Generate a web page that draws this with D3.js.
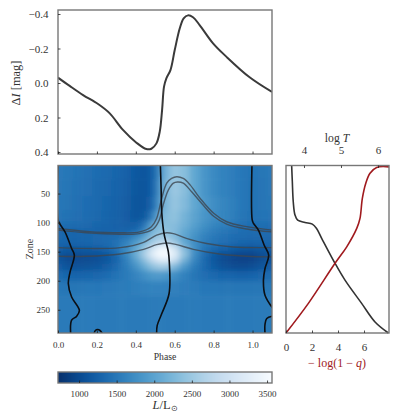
<!DOCTYPE html>
<html>
<head>
<meta charset="utf-8">
<script src="https://cdn.jsdelivr.net/npm/d3@7"></script>
<style>
  html, body { margin: 0; padding: 0; background: #fff; }
  text { font-family: "Liberation Serif", serif; fill: #333; }
  .tick text { font-size: 11px; }
  .domain { display: none; }
  .tick line { stroke: #222; stroke-width: 0.8; }
</style>
</head>
<body>
<svg id="chart" width="399" height="418"></svg>
<script>
// light curve
const curvePhase = [0, .06, .129, .206, .266, .334, .403, .454, .48, .506, .523, .535, .545, .557, .578, .6, .626, .646, .668, .694, .728, .797, .865, .985, 1.1];
const curveMag = [-.031, .017, .07, .122, .176, .272, .346, .383, .381, .35, .282, .157, .021, -.027, -.075, -.191, -.317, -.375, -.392, -.381, -.336, -.23, -.153, -.033, .052];

// luminosity map, rows = zones, cols = phases
const mapPhases = [0, .05, .1, .15, .2, .25, .3, .35, .4, .44, .47, .5, .53, .56, .6, .65, .7, .75, .8, .85, .9, .95, 1.0, 1.05, 1.1];
const mapZones = [10, 40, 70, 90, 105, 115, 125, 135, 145, 155, 165, 175, 190, 210, 240, 280];
const mapL = [
  [1520,1490,1450,1420,1380,1350,1300,1250,1170,1130,1170,1350,1850,2250,2450,2350,2050,1850,1700,1620,1560,1500,1450,1480,1520],
  [1510,1480,1430,1400,1360,1330,1280,1230,1150,1120,1170,1400,1950,2300,2500,2350,2050,1850,1700,1620,1560,1500,1440,1470,1510],
  [1490,1460,1420,1380,1350,1310,1270,1210,1130,1120,1200,1500,2000,2300,2450,2300,2050,1880,1750,1650,1580,1500,1440,1460,1490],
  [1470,1440,1400,1370,1340,1300,1260,1200,1130,1150,1350,1800,2200,2350,2400,2200,2000,1850,1720,1650,1570,1480,1430,1450,1470],
  [1400,1370,1350,1330,1300,1280,1250,1220,1230,1400,1800,2200,2350,2350,2330,2150,1950,1780,1650,1580,1500,1420,1380,1390,1400],
  [1320,1300,1290,1280,1280,1270,1270,1280,1380,1650,2050,2300,2400,2400,2300,2050,1850,1680,1560,1480,1420,1380,1350,1340,1320],
  [1320,1300,1290,1300,1320,1340,1380,1480,1680,1950,2250,2450,2550,2500,2300,2000,1780,1600,1500,1430,1380,1340,1320,1320,1320],
  [1300,1290,1290,1300,1320,1360,1440,1620,1900,2200,2450,2650,2850,2850,2500,2050,1750,1560,1460,1400,1340,1300,1280,1290,1300],
  [1220,1180,1170,1190,1230,1290,1430,1700,2050,2400,2800,3200,3450,3450,3000,2300,1780,1480,1340,1250,1190,1140,1120,1160,1220],
  [1120,1040,1020,1040,1080,1160,1340,1680,2100,2550,3000,3400,3560,3560,3200,2400,1750,1400,1190,1060,990,950,950,1030,1120],
  [1120,1020,1000,1010,1050,1130,1290,1580,1950,2300,2650,2950,3200,3200,2850,2150,1650,1350,1140,1010,950,930,950,1030,1120],
  [1200,1100,1080,1090,1130,1210,1350,1550,1780,2050,2280,2450,2550,2500,2250,1850,1550,1350,1190,1080,1020,1010,1040,1110,1200],
  [1370,1310,1290,1300,1330,1380,1450,1530,1640,1750,1830,1880,1880,1850,1750,1600,1480,1400,1340,1300,1280,1270,1290,1320,1370],
  [1490,1480,1480,1490,1500,1520,1530,1550,1580,1600,1620,1620,1620,1610,1590,1560,1530,1500,1490,1480,1480,1480,1480,1480,1490],
  [1530,1530,1530,1530,1530,1530,1530,1530,1530,1530,1530,1530,1530,1530,1530,1530,1530,1530,1530,1530,1530,1530,1530,1530,1530],
  [1530,1530,1530,1530,1530,1530,1530,1530,1530,1530,1530,1530,1530,1530,1530,1530,1530,1530,1530,1530,1530,1530,1530,1530,1530]
];

// gray contours on the map [phase, zone]
const grayA = [[0,110],[.147,115],[.32,117.5],[.42,116],[.48,107],[.507,93],[.533,58],[.559,32],[.584,24],[.61,21],[.644,24],[.679,35],[.73,58],[.8,84],[.867,98.5],[.97,107],[1.1,113]];
const grayB = [[0,113],[.147,117.5],[.32,120],[.42,119],[.49,111],[.52,96],[.54,70],[.567,44],[.593,32],[.614,30],[.644,32],[.687,47],[.739,67],[.8,89],[.867,102.5],[.97,111],[1.1,116]];
const grayC = [[0,143],[.32,143],[.44,134],[.507,121.5],[.559,117.5],[.593,119],[.66,127],[.764,136],[.9,142],[1.1,143]];
const grayD = [[0,158],[.147,158],[.32,154],[.44,146],[.507,138],[.559,135],[.61,138],[.696,146],[.83,154],[.97,158],[1.1,159]];

// black contours
const blackLeft = [[0,0],[0,95],[.007,101],[.036,116],[.07,144.5],[.084,156],[.062,185],[.053,205],[.07,228],[.11,251],[.096,261],[.07,268],[.065,291]];
const blackMid = [[.526,0],[.53,41],[.533,81],[.545,119],[.567,150],[.572,167],[.571,222],[.533,257],[.51,277],[.507,291]];
const blackRight = [[.997,0],[.998,95],[1.004,101],[1.03,113],[1.06,139],[1.083,156],[1.064,179],[1.056,199],[1.064,225],[1.103,247]];
const blackCorner = [[1.103,261],[1.073,265],[1.064,275],[1.064,291]];
const blackRing = [[.185,291],[.192,285.7],[.204,284],[.216,285.7],[.228,291]];

// side panel
const logT = [3.667, 3.685, 3.71, 3.757, 3.83, 4.027, 4.225, 4.34, 4.478, 4.838, 5.108, 5.558, 5.92, 6.28];
const logTZone = [2, 29.6, 64, 87, 95.7, 99.7, 102.6, 110, 127, 170, 199, 239, 271, 290];
const logQ = [0, 1.72, 3.77, 4.67, 5.44, 5.69, 5.87, 6.13, 6.46, 6.97, 7.92];
const logQZone = [290, 239, 170, 141.7, 110, 92.8, 58.3, 32.5, 15, 5, 4];

const phaseTicks = [0, .2, .4, .6, .8, 1.0];
const magTicks = [-.4, -.2, 0, .2, .4];
const zoneTicks = [50, 100, 150, 200, 250];
const colorTicks = [1000, 1500, 2000, 2500, 3000, 3500];

const svg = d3.select("#chart");
const left = 58, right = 272;
const spine = "#777";

const x = d3.scaleLinear().domain([0, 1.1]).range([left, left + 214]);
const yMag = d3.scaleLinear().domain([-.4, .4]).range([14, 152]);
const yZone = d3.scaleLinear().domain([1.7, 290]).range([165.5, 333]);
const color = d3.scaleSequential(t => d3.interpolateBlues(1 - t)).domain([720, 3566]);

const defs = svg.append("defs");
defs.append("clipPath").attr("id", "mapClip").append("rect")
    .attr("x", left).attr("y", 165.5).attr("width", right - left).attr("height", 167.5);
defs.append("clipPath").attr("id", "topClip").append("rect")
    .attr("x", left).attr("y", 10).attr("width", right - left).attr("height", 144);
defs.append("filter").attr("id", "soften")
    .attr("filterUnits", "userSpaceOnUse")
    .attr("x", 0).attr("y", 120).attr("width", 399).attr("height", 260)
    .append("feGaussianBlur").attr("stdDeviation", "3 2.6");

function box(x0, y0, w, h) {
    svg.append("rect").attr("x", x0).attr("y", y0).attr("width", w).attr("height", h)
        .attr("fill", "none").attr("stroke", spine).attr("stroke-width", 1.4);
}

// top panel
svg.append("g").attr("clip-path", "url(#topClip)").append("path")
    .attr("d", d3.line().x((d, i) => x(curvePhase[i])).y(d => yMag(d)).curve(d3.curveCatmullRom)(curveMag))
    .attr("fill", "none").attr("stroke", "#3a3a3a").attr("stroke-width", 2);
box(left, 10, right - left, 144);
svg.append("g").attr("transform", `translate(${left},0)`)
    .call(d3.axisLeft(yMag).tickValues(magTicks).tickSizeInner(-2.5).tickPadding(9.5)
        .tickFormat(d => d3.format(".1f")(d).replace("-", "\u2212")));
svg.append("g").attr("transform", "translate(0,154)")
    .call(d3.axisBottom(x).tickValues(phaseTicks).tickSizeInner(-2.5).tickFormat(""));
const magLabel = svg.append("text").attr("transform", "translate(20,83) rotate(-90)")
    .attr("text-anchor", "middle").attr("font-size", 12.4);
magLabel.append("tspan").text("\u0394");
magLabel.append("tspan").attr("font-style", "italic").text("I");
magLabel.append("tspan").text(" [mag]");

// heat map cells, extended past the frame so the softening does not fade at the edges
function edges(vals, pad) {
    const mids = d3.pairs(vals, (a, b) => (a + b) / 2);
    return [vals[0] - pad, ...mids, vals[vals.length - 1] + pad];
}
const xEdges = edges(mapPhases, .08);
const zEdges = edges(mapZones, 30);
svg.append("g").attr("clip-path", "url(#mapClip)")
    .append("g").attr("filter", "url(#soften)")
    .selectAll("g").data(mapL).join("g")
    .each(function(row, r) {
        d3.select(this).selectAll("rect").data(row).join("rect")
            .attr("x", (d, c) => x(xEdges[c]))
            .attr("width", (d, c) => x(xEdges[c + 1]) - x(xEdges[c]) + .5)
            .attr("y", yZone(zEdges[r]))
            .attr("height", yZone(zEdges[r + 1]) - yZone(zEdges[r]) + .5)
            .attr("fill", d => color(d));
    });

const contour = d3.line().x(d => x(d[0])).y(d => yZone(d[1])).curve(d3.curveCatmullRom);
const mapLines = svg.append("g").attr("clip-path", "url(#mapClip)");
[grayA, grayB, grayC, grayD].forEach(c => {
    mapLines.append("path").attr("d", contour(c)).attr("fill", "none")
        .attr("stroke", "#3d4650").attr("stroke-opacity", .8).attr("stroke-width", 1.4);
});
[blackLeft, blackMid, blackRight, blackCorner, blackRing].forEach(c => {
    mapLines.append("path").attr("d", contour(c)).attr("fill", "none")
        .attr("stroke", "#0b0f14").attr("stroke-width", 1.6);
});
box(left, 165.5, right - left, 167.5);
svg.append("g").attr("transform", `translate(${left},0)`)
    .call(d3.axisLeft(yZone).tickValues(zoneTicks).tickSizeInner(-2.5).tickPadding(8))
    .selectAll("text").style("font-size", "9px");
svg.append("g").attr("transform", "translate(0,333)")
    .call(d3.axisBottom(x).tickValues(phaseTicks).tickSizeInner(-2.5).tickPadding(8.5).tickFormat(d3.format(".1f")))
    .selectAll("text").style("font-size", "9px");
svg.append("text").attr("transform", "translate(33,249) rotate(-90)").attr("text-anchor", "middle")
    .attr("font-size", 10).text("Zone");
svg.append("text").attr("x", 165).attr("y", 360).attr("text-anchor", "middle")
    .attr("font-size", 9.7).text("Phase");

// side panel
const sideLeft = 286, sideRight = 389;
const xQ = d3.scaleLinear().domain([0, 7.92]).range([sideLeft, sideRight]);
const xT = d3.scaleLinear().domain([3.514, 6.297]).range([sideLeft, sideRight]);
svg.append("path")
    .attr("d", d3.line().x(d => xT(d)).y((d, i) => yZone(logTZone[i])).curve(d3.curveCatmullRom)(logT))
    .attr("fill", "none").attr("stroke", "#333").attr("stroke-width", 1.6);
svg.append("path")
    .attr("d", d3.line().x(d => xQ(d)).y((d, i) => yZone(logQZone[i])).curve(d3.curveCatmullRom)(logQ))
    .attr("fill", "none").attr("stroke", "#a01a1e").attr("stroke-width", 1.6);
box(sideLeft, 165.5, sideRight - sideLeft, 167.5);
svg.append("g").attr("transform", "translate(0,333)")
    .call(d3.axisBottom(xQ).tickValues([0, 2, 4, 6]).tickSizeInner(-2.5).tickPadding(10.5));
svg.append("g").attr("transform", "translate(0,165.5)")
    .call(d3.axisTop(xT).tickValues([4, 5, 6]).tickSizeInner(-2.5).tickPadding(11.5).tickFormat(d3.format("d")));
const tLabel = svg.append("text").attr("x", 337).attr("y", 142).attr("text-anchor", "middle").attr("font-size", 11.7);
tLabel.append("tspan").text("log ");
tLabel.append("tspan").attr("font-style", "italic").text("T");
const qLabel = svg.append("text").attr("x", 337).attr("y", 367).attr("text-anchor", "middle")
    .attr("font-size", 12).style("fill", "#a01a1e");
qLabel.append("tspan").text("\u2212 log(1 \u2212 ");
qLabel.append("tspan").attr("font-style", "italic").text("q");
qLabel.append("tspan").text(")");

// colour bar
const xBar = d3.scaleLinear().domain([720, 3566]).range([left, right]);
svg.append("g").selectAll("rect").data(d3.range(left, right)).join("rect")
    .attr("x", d => d).attr("y", 372).attr("width", 1.2).attr("height", 11)
    .attr("fill", d => color(xBar.invert(d + .5)));
box(left, 372, right - left, 11);
svg.append("g").attr("transform", "translate(0,383)")
    .call(d3.axisBottom(xBar).tickValues(colorTicks).tickSizeInner(-2.5).tickPadding(7.5).tickFormat(d3.format("d")))
    .selectAll("text").style("font-size", "9px");
const barLabel = svg.append("text").attr("x", 165).attr("y", 409).attr("text-anchor", "middle").attr("font-size", 12.5);
barLabel.append("tspan").attr("font-style", "italic").text("L");
barLabel.append("tspan").text("/L");
barLabel.append("tspan").attr("font-size", 8).attr("dy", 2).text("\u2299");
</script>
</body>
</html>
